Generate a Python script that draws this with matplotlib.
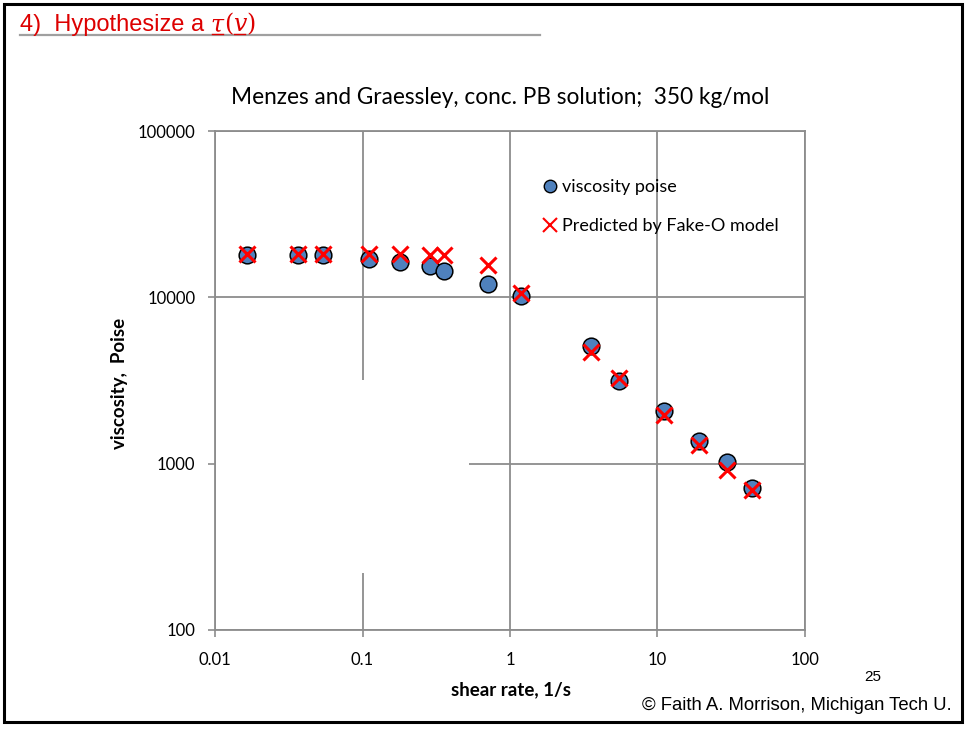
import matplotlib
matplotlib.use('Agg')
import matplotlib.pyplot as plt
from matplotlib.lines import Line2D
from matplotlib.patches import Rectangle

# data (shear rate 1/s, viscosity poise)
shear_rate = [0.0164, 0.0367, 0.0542, 0.111, 0.180, 0.287, 0.359, 0.713, 1.18,
              3.54, 5.48, 11.07, 19.1, 29.4, 43.9]
viscosity = [18000, 18000, 17950, 16970, 16420, 15460, 14490, 12000, 10250,
             5110, 3150, 2080, 1370, 1030, 713]
predicted = [18300, 18300, 18300, 18200, 18100, 18000, 18000, 15700, 10600,
             4720, 3270, 1950, 1300, 918, 695]

x_ticks = [0.01, 0.1, 1, 10, 100]
x_labels = ['0.01', '0.1', '1', '10', '100']
y_ticks = [100, 1000, 10000, 100000]
y_labels = ['100', '1000', '10000', '100000']

W, H = 966, 729
calibri = 'Lato'
arial = 'Liberation Sans'
grid_c = '#8c8c8c'

fig = plt.figure(figsize=(W / 100, H / 100), dpi=100)
ax = fig.add_axes([215 / W, (H - 630) / H, 590 / W, 499 / H])

ax.set_xscale('log')
ax.set_yscale('log')
ax.set_xlim(0.01, 100)
ax.set_ylim(100, 100000)
ax.set_xticks(x_ticks)
ax.set_xticklabels(x_labels)
ax.set_yticks(y_ticks)
ax.set_yticklabels(y_labels)
ax.minorticks_off()
ax.tick_params(axis='both', length=5, width=1.2, color=grid_c,
               labelsize=12, direction='out')
ax.tick_params(axis='x', pad=11)
ax.tick_params(axis='y', pad=9)
for lab in ax.get_xticklabels() + ax.get_yticklabels():
    lab.set_fontfamily(calibri)
ax.grid(True, color=grid_c, lw=1.3)
ax.set_axisbelow(True)
for s in ax.spines.values():
    s.set_color(grid_c)
    s.set_linewidth(1.3)

# white patch from the slide that hides part of the grid
ax.add_patch(Rectangle((0.002, 0.114), 0.4285, 0.387, transform=ax.transAxes,
                       fc='white', ec='none', zorder=1))

ax.plot(shear_rate, viscosity, 'o', ms=12, mfc='#4F81BD', mec='black',
        mew=1.1, zorder=3)
ax.plot(shear_rate, predicted, 'x', ms=12, color='#FF0000', mew=2.2, zorder=4)

handles = [Line2D([], [], ls='none', marker='o', ms=9, mfc='#4F81BD',
                  mec='black', mew=1.0),
           Line2D([], [], ls='none', marker='x', ms=10, color='#FF0000',
                  mew=1.5)]
fig.legend(handles, ['viscosity poise', 'Predicted by Fake-O model'],
           loc='upper left', bbox_to_anchor=(544 / W, 1 - 179 / H),
           frameon=False, prop={'family': calibri, 'size': 13},
           handlelength=0.7, handletextpad=0.3, labelspacing=1.3,
           borderpad=0, borderaxespad=0)

fig.text(500 / W, 1 - 98 / H,
         'Menzes and Graessley, conc. PB solution;  350 kg/mol',
         ha='center', va='center', family=calibri, fontsize=16.3)
fig.text(511 / W, 1 - 690 / H, 'shear rate, 1/s', ha='center', va='center',
         family=calibri, fontsize=13.5, fontweight='bold')
fig.text(120 / W, 1 - 383 / H, 'viscosity,  Poise', ha='center', va='center',
         rotation=90, family=calibri, fontsize=13.5, fontweight='bold')

# slide decorations
fig.add_artist(Rectangle((4 / W, 7 / H), 958 / W, 718 / H,
                         transform=fig.transFigure, fill=False,
                         ec='black', lw=2.2))
fig.add_artist(Line2D([20 / W, 540 / W], [1 - 35 / H, 1 - 35 / H],
                      transform=fig.transFigure, color='#a0a0a0', lw=1.6))

red = '#DD0000'
base_y = 1 - 31 / H
fig.canvas.draw()
renderer = fig.canvas.get_renderer()
x = 20 / W
pieces = [('4)  Hypothesize a ', arial, 'normal', False),
          ('τ', 'DejaVu Serif', 'italic', True),
          ('(', 'DejaVu Serif', 'normal', False),
          ('v', 'DejaVu Serif', 'italic', True),
          (')', 'DejaVu Serif', 'normal', False)]
for txt, fam, style, under in pieces:
    t = fig.text(x, base_y, txt, ha='left', va='baseline', family=fam,
                 style=style, fontsize=17, color=red)
    bb = t.get_window_extent(renderer).transformed(fig.transFigure.inverted())
    if under:
        fig.add_artist(Line2D([bb.x0 + 1 / W, bb.x1 - 1 / W],
                              [base_y - 3 / H, base_y - 3 / H],
                              transform=fig.transFigure, color=red, lw=1.0))
    x = bb.x1

fig.text(873 / W, 1 - 677 / H, '25', ha='center', va='center',
         family=arial, fontsize=11)
fig.text(952 / W, 1 - 705 / H, '© Faith A. Morrison, Michigan Tech U.',
         ha='right', va='center', family=arial, fontsize=13.3)

fig.savefig('out.png', dpi=100)
